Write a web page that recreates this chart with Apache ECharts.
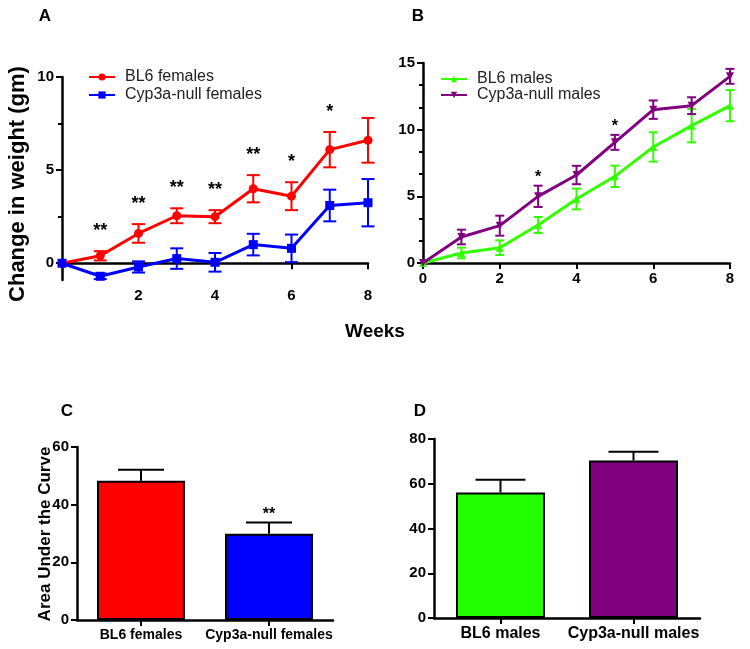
<!DOCTYPE html>
<html><head><meta charset="utf-8">
<script src="https://cdn.jsdelivr.net/npm/echarts@6/dist/echarts.min.js"></script>
<style>html,body{margin:0;padding:0;background:#fff}#c{width:750px;height:649px}</style>
</head><body><div id="c"></div>
<script>
// ---- data ----
const weeks = [0, 1, 2, 3, 4, 5, 6, 7, 8];
const bl6Females = [0, 0.4, 1.6, 2.55, 2.5, 4.0, 3.6, 6.1, 6.6];
const bl6FemalesErr = [0, 0.25, 0.5, 0.4, 0.35, 0.73, 0.75, 0.95, 1.2];
const nullFemales = [0, -0.7, -0.2, 0.25, 0.05, 1.0, 0.8, 3.1, 3.25];
const nullFemalesErr = [0, 0.15, 0.3, 0.55, 0.5, 0.58, 0.74, 0.85, 1.27];
const sigFemales = ['', '**', '**', '**', '**', '**', '*', '*', ''];
const bl6Males = [0, 0.75, 1.15, 2.85, 4.8, 6.5, 8.7, 10.3, 11.8];
const bl6MalesErr = [0, 0.4, 0.55, 0.6, 0.78, 0.8, 1.1, 1.25, 1.17];
const nullMales = [0, 1.95, 2.8, 5.0, 6.6, 9.05, 11.5, 11.8, 14.0];
const nullMalesErr = [0, 0.55, 0.75, 0.8, 0.69, 0.56, 0.69, 0.63, 0.56];
const sigMales = ['', '', '', '*', '', '*', '', '', ''];
const xTicksA = [2, 4, 6, 8];
const yTicksA = [0, 5, 10];
const yMinorA = [2.5, 7.5];
const aucFemaleCats = ['BL6 females', 'Cyp3a-null females'];
const aucFemales = [48.3, 29.9];
const aucFemalesErr = [3.8, 3.9];
const sigAucFemales = ['', '**'];
const aucMaleCats = ['BL6 males', 'Cyp3a-null males'];
const aucMales = [56.1, 70.4];
const aucMalesErr = [5.7, 3.9];

// ---- styles ----
const FONT = 'Liberation Sans, Arial, sans-serif';
const RED = '#ff0000', BLUE = '#0000ff', GREEN = '#33ff00', PURPLE = '#800080';
const GREEN_BAR = '#22ff00';

function errData(xs, mean, err, oneSided) {
  const out = [];
  xs.forEach((x, i) => { if (err[i] > 0) out.push([x, oneSided ? mean[i] : mean[i] - err[i], mean[i] + err[i]]); });
  return out;
}
function errSeries(xi, yi, data, color, half, oneSided, lw) {
  return {
    type: 'custom', xAxisIndex: xi, yAxisIndex: yi, data: data, silent: true,
    encode: { x: 0, y: [1, 2] }, clip: false, z: 1,
    renderItem: function (params, api) {
      const x = api.value(0), lo = api.value(1), hi = api.value(2);
      const pHi = api.coord([x, hi]), pLo = api.coord([x, lo]);
      const st = { stroke: color, lineWidth: lw };
      const ch = [
        { type: 'line', shape: { x1: pHi[0], y1: pHi[1], x2: pLo[0], y2: pLo[1] }, style: st },
        { type: 'line', shape: { x1: pHi[0] - half, y1: pHi[1], x2: pHi[0] + half, y2: pHi[1] }, style: st }
      ];
      if (!oneSided) ch.push({ type: 'line', shape: { x1: pLo[0] - half, y1: pLo[1], x2: pLo[0] + half, y2: pLo[1] }, style: st });
      return { type: 'group', children: ch };
    }
  };
}
function sigSeries(xi, yi, xs, mean, err, marks, fontSize, gap) {
  const data = [];
  xs.forEach((x, i) => { if (marks[i]) data.push([x, mean[i] + err[i], marks[i]]); });
  return {
    type: 'custom', xAxisIndex: xi, yAxisIndex: yi, data: data, silent: true,
    encode: { x: 0, y: 1 }, clip: false, z: 5,
    renderItem: function (params, api) {
      const p = api.coord([api.value(0), api.value(1)]);
      return { type: 'text', x: p[0], y: p[1] - gap,
        style: { text: data[params.dataIndex][2], font: 'bold ' + fontSize + 'px ' + FONT, fill: '#000', align: 'center', verticalAlign: 'bottom' } };
    }
  };
}
const axLine = { show: true, lineStyle: { color: '#000', width: 2.5 } };
const tickLbl = (fs) => ({ color: '#000', fontWeight: 'bold', fontSize: fs, fontFamily: FONT });

const option = {
  animation: false,
  backgroundColor: '#fff',
  grid: [
    { left: 62, top: 77, width: 306, height: 203 },
    { left: 423, top: 63, width: 307, height: 200 },
    { left: 77, top: 447, width: 256, height: 173 },
    { left: 434, top: 439, width: 266, height: 179 }
  ],
  xAxis: [
    { gridIndex: 0, type: 'value', min: 0, max: 8, interval: 2,
      axisLine: Object.assign({ onZero: true, onZeroAxisIndex: 0 }, axLine),
      axisTick: { show: true, length: 6, customValues: xTicksA, lineStyle: { color: '#000', width: 2 } },
      axisLabel: Object.assign({ margin: 8, customValues: xTicksA }, tickLbl(15)), splitLine: { show: false } },
    { gridIndex: 1, type: 'value', min: 0, max: 8, interval: 2, axisLine: axLine,
      axisTick: { show: true, length: 6, lineStyle: { color: '#000', width: 2 } },
      axisLabel: Object.assign({ margin: 8 }, tickLbl(15)), splitLine: { show: false } },
    { gridIndex: 2, type: 'category', data: aucFemaleCats, axisLine: axLine,
      axisTick: { show: true, alignWithLabel: true, length: 6, lineStyle: { color: '#000', width: 2 } },
      axisLabel: Object.assign({ margin: 8, interval: 0 }, tickLbl(14)) },
    { gridIndex: 3, type: 'category', data: aucMaleCats, axisLine: axLine,
      axisTick: { show: true, alignWithLabel: true, length: 6, lineStyle: { color: '#000', width: 2 } },
      axisLabel: Object.assign({ margin: 8, interval: 0 }, tickLbl(16)) }
  ],
  yAxis: [
    { gridIndex: 0, type: 'value', min: -0.9, max: 10, position: 'left', axisLine: Object.assign({ onZero: false }, axLine),
      axisTick: { show: true, length: 6, customValues: yTicksA, lineStyle: { color: '#000', width: 2 } },
      axisLabel: Object.assign({ margin: 8, customValues: yTicksA }, tickLbl(15)), splitLine: { show: false } },
    { gridIndex: 0, type: 'value', min: -0.9, max: 10, position: 'left', offset: 0, axisLine: { show: false, onZero: false },
      axisTick: { show: true, length: 4, customValues: yMinorA, lineStyle: { color: '#000', width: 2 } },
      axisLabel: { show: false }, splitLine: { show: false } },
    { gridIndex: 1, type: 'value', min: 0, max: 15, interval: 5, axisLine: Object.assign({ onZero: false }, axLine),
      axisTick: { show: true, length: 6, lineStyle: { color: '#000', width: 2 } },
      minorTick: { show: true, splitNumber: 3, length: 4, lineStyle: { color: '#000', width: 2 } },
      axisLabel: Object.assign({ margin: 8 }, tickLbl(15)), splitLine: { show: false } },
    { gridIndex: 2, type: 'value', min: 0, max: 60, interval: 20, axisLine: Object.assign({ onZero: false }, axLine),
      axisTick: { show: true, length: 6, lineStyle: { color: '#000', width: 2 } },
      axisLabel: Object.assign({ margin: 8 }, tickLbl(15)), splitLine: { show: false } },
    { gridIndex: 3, type: 'value', min: 0, max: 80, interval: 20, axisLine: Object.assign({ onZero: false }, axLine),
      axisTick: { show: true, length: 6, lineStyle: { color: '#000', width: 2 } },
      axisLabel: Object.assign({ margin: 8 }, tickLbl(15)), splitLine: { show: false } }
  ],
  legend: [
    { data: ['BL6 females', 'Cyp3a-null females'], orient: 'vertical', left: 83, top: 64, itemWidth: 26, itemHeight: 9, itemGap: 2,
      selectedMode: false, textStyle: { fontSize: 16, color: '#222', fontFamily: FONT, lineHeight: 16, padding: [0, 0, 0, 5] } },
    { data: ['BL6 males', 'Cyp3a-null males'], orient: 'vertical', left: 435, top: 66, itemWidth: 26, itemHeight: 8, itemGap: 0,
      selectedMode: false, textStyle: { fontSize: 16, color: '#222', fontFamily: FONT, lineHeight: 16, padding: [0, 0, 0, 5] } }
  ],
  graphic: [
    { type: 'text', x: 45, y: 16, style: { text: 'A', font: 'bold 17px ' + FONT, fill: '#000', align: 'center', verticalAlign: 'middle' } },
    { type: 'text', x: 418, y: 16, style: { text: 'B', font: 'bold 17px ' + FONT, fill: '#000', align: 'center', verticalAlign: 'middle' } },
    { type: 'text', x: 67, y: 411, style: { text: 'C', font: 'bold 17px ' + FONT, fill: '#000', align: 'center', verticalAlign: 'middle' } },
    { type: 'text', x: 420, y: 411, style: { text: 'D', font: 'bold 17px ' + FONT, fill: '#000', align: 'center', verticalAlign: 'middle' } },
    { type: 'text', x: 18, y: 184, rotation: Math.PI / 2, style: { text: 'Change in weight (gm)', font: 'bold 22px ' + FONT, fill: '#000', align: 'center', verticalAlign: 'middle' } },
    { type: 'text', x: 375, y: 332, style: { text: 'Weeks', font: 'bold 19px ' + FONT, fill: '#000', align: 'center', verticalAlign: 'middle' } },
    { type: 'text', x: 45, y: 534, rotation: Math.PI / 2, style: { text: 'Area Under the Curve', font: 'bold 17px ' + FONT, fill: '#000', align: 'center', verticalAlign: 'middle' } }
  ],
  series: [
    errSeries(0, 0, errData(weeks, bl6Females, bl6FemalesErr, false), RED, 6.5, false, 2),
    errSeries(0, 0, errData(weeks, nullFemales, nullFemalesErr, false), BLUE, 6.5, false, 2),
    { name: 'BL6 females', type: 'line', xAxisIndex: 0, yAxisIndex: 0, data: weeks.map((w, i) => [w, bl6Females[i]]),
      symbol: 'circle', symbolSize: 9, showAllSymbol: true, lineStyle: { color: RED, width: 3 }, itemStyle: { color: RED }, z: 3 },
    { name: 'Cyp3a-null females', type: 'line', xAxisIndex: 0, yAxisIndex: 0, data: weeks.map((w, i) => [w, nullFemales[i]]),
      symbol: 'rect', symbolSize: 9, showAllSymbol: true, lineStyle: { color: BLUE, width: 3 }, itemStyle: { color: BLUE }, z: 3 },
    sigSeries(0, 0, weeks, bl6Females, bl6FemalesErr, sigFemales, 18, 11),
    errSeries(1, 2, errData(weeks, bl6Males, bl6MalesErr, false), GREEN, 4.5, false, 2),
    errSeries(1, 2, errData(weeks, nullMales, nullMalesErr, false), PURPLE, 4.5, false, 2),
    { name: 'BL6 males', type: 'line', xAxisIndex: 1, yAxisIndex: 2, data: weeks.map((w, i) => [w, bl6Males[i]]),
      symbol: 'triangle', symbolSize: 8, showAllSymbol: true, lineStyle: { color: GREEN, width: 3 }, itemStyle: { color: GREEN }, z: 3 },
    { name: 'Cyp3a-null males', type: 'line', xAxisIndex: 1, yAxisIndex: 2, data: weeks.map((w, i) => [w, nullMales[i]]),
      symbol: 'triangle', symbolRotate: 180, symbolSize: 8, showAllSymbol: true, lineStyle: { color: PURPLE, width: 3 }, itemStyle: { color: PURPLE }, z: 3 },
    sigSeries(1, 2, weeks, nullMales, nullMalesErr, sigMales, 16, 0),
    { type: 'bar', xAxisIndex: 2, yAxisIndex: 3, barWidth: 88,
      data: aucFemales.map((v, i) => ({ value: v, itemStyle: { color: [RED, BLUE][i] } })),
      itemStyle: { borderColor: '#000', borderWidth: 2 }, z: 2 },
    errSeries(2, 3, errData([0, 1], aucFemales, aucFemalesErr, true), '#000', 23, true, 2),
    sigSeries(2, 3, [0, 1], aucFemales, aucFemalesErr, sigAucFemales, 16, 0),
    { type: 'bar', xAxisIndex: 3, yAxisIndex: 4, barWidth: 89,
      data: aucMales.map((v, i) => ({ value: v, itemStyle: { color: [GREEN_BAR, PURPLE][i] } })),
      itemStyle: { borderColor: '#000', borderWidth: 2 }, z: 2 },
    errSeries(3, 4, errData([0, 1], aucMales, aucMalesErr, true), '#000', 25, true, 2)
  ]
};
const chart = echarts.init(document.getElementById('c'), null, { renderer: 'canvas' });
chart.setOption(option);
</script>
</body></html>
